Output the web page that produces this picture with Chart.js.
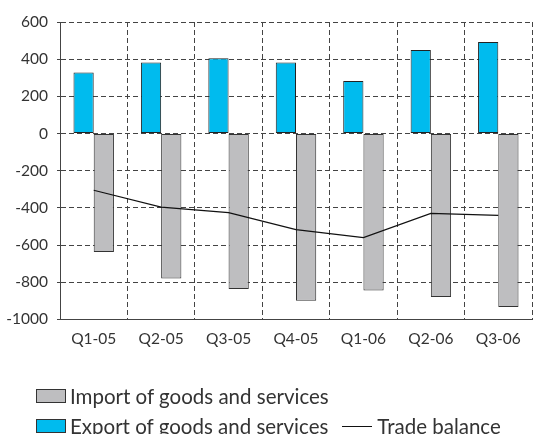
<!DOCTYPE html>
<html>
<head>
<meta charset="utf-8">
<script src="https://cdn.jsdelivr.net/npm/chart.js@4"></script>
<style>
    html, body { margin: 0; padding: 0; background: #fff; }
    #wrap { position: relative; width: 533px; height: 434px; overflow: hidden; }
    #legend { position: absolute; left: 36px; top: 381px; font-family: Lato, sans-serif; font-size: 20.5px; color: #333; }
    .row { display: flex; align-items: center; height: 30px; white-space: nowrap; }
    .box { width: 28px; height: 12px; border: 1px solid #333; margin-right: 4px; }
    .line { width: 30px; height: 0; border-top: 1px solid #111; margin-left: 14px; margin-right: 5px; }
</style>
</head>
<body>
<div id="wrap">
    <canvas id="chart" width="533" height="434"></canvas>
    <div id="legend"></div>
</div>
<script>
// Quarters
const quarters = ['Q1-05', 'Q2-05', 'Q3-05', 'Q4-05', 'Q1-06', 'Q2-06', 'Q3-06'];

// Export / import of goods and services, trade balance
const exportValues = [328, 382, 405, 382, 283, 449, 492];
const importValues = [-638, -780, -836, -899, -845, -879, -933];
const balanceValues = [-305, -396, -426, -517, -560, -430, -440];

const EXPORT_COLOR = '#00BBEE';
const IMPORT_COLOR = '#BEBEC0';
const GRID_COLOR = '#444';
const TEXT_COLOR = '#333';

Chart.defaults.font.family = 'Lato, sans-serif';
Chart.defaults.font.size = 15.5;
Chart.defaults.color = TEXT_COLOR;

let ctx = document.getElementById('chart').getContext('2d');
const chart = new Chart(ctx, {
    type: 'bar',
    data: {
        labels: quarters,
        datasets: [{
            label: 'Export of goods and services',
            data: exportValues,
            backgroundColor: EXPORT_COLOR,
            borderColor: '#222',
            borderWidth: 1,
            borderSkipped: false,
            categoryPercentage: 0.6,
            barPercentage: 1,
            order: 1
        }, {
            label: 'Import of goods and services',
            data: importValues,
            backgroundColor: IMPORT_COLOR,
            borderColor: '#333',
            borderWidth: 1,
            borderSkipped: false,
            categoryPercentage: 0.6,
            barPercentage: 1,
            order: 1
        }, {
            type: 'line',
            label: 'Trade balance',
            data: balanceValues,
            borderColor: '#111',
            borderWidth: 1.2,
            pointRadius: 0,
            tension: 0,
            fill: false,
            order: 0
        }]
    },
    options: {
        responsive: false,
        animation: false,
        layout: {
            padding: { top: 22, right: 1, bottom: 76, left: 0 }
        },
        plugins: {
            legend: { display: false },
            tooltip: { enabled: false }
        },
        scales: {
            x: {
                offset: true,
                grid: { offset: true, drawTicks: false, color: GRID_COLOR },
                border: { display: true, color: GRID_COLOR, dash: [5, 3] },
                ticks: { padding: 10, color: TEXT_COLOR }
            },
            y: {
                min: -1000,
                max: 600,
                grid: { tickLength: 3, color: GRID_COLOR },
                border: { display: true, color: GRID_COLOR, dash: [5, 3] },
                ticks: {
                    stepSize: 200,
                    padding: 9,
                    color: TEXT_COLOR,
                    callback: value => String(value)
                },
                afterFit: function (axis) {
                    axis.width = 60;
                }
            }
        }
    }
});

/**
 * Builds the legend under the chart: import on the first row,
 * export and trade balance on the second one
 */
function buildLegend(chart, rows) {
    const legend = document.getElementById('legend');
    for (const row of rows) {
        const div = document.createElement('div');
        div.className = 'row';
        for (const index of row) {
            const ds = chart.data.datasets[index];
            const marker = document.createElement('span');
            if (ds.type === 'line') {
                marker.className = 'line';
            } else {
                marker.className = 'box';
                marker.style.background = ds.backgroundColor;
            }
            const text = document.createElement('span');
            text.textContent = ds.label;
            div.appendChild(marker);
            div.appendChild(text);
        }
        legend.appendChild(div);
    }
}

buildLegend(chart, [[1], [0, 2]]);
</script>
</body>
</html>
